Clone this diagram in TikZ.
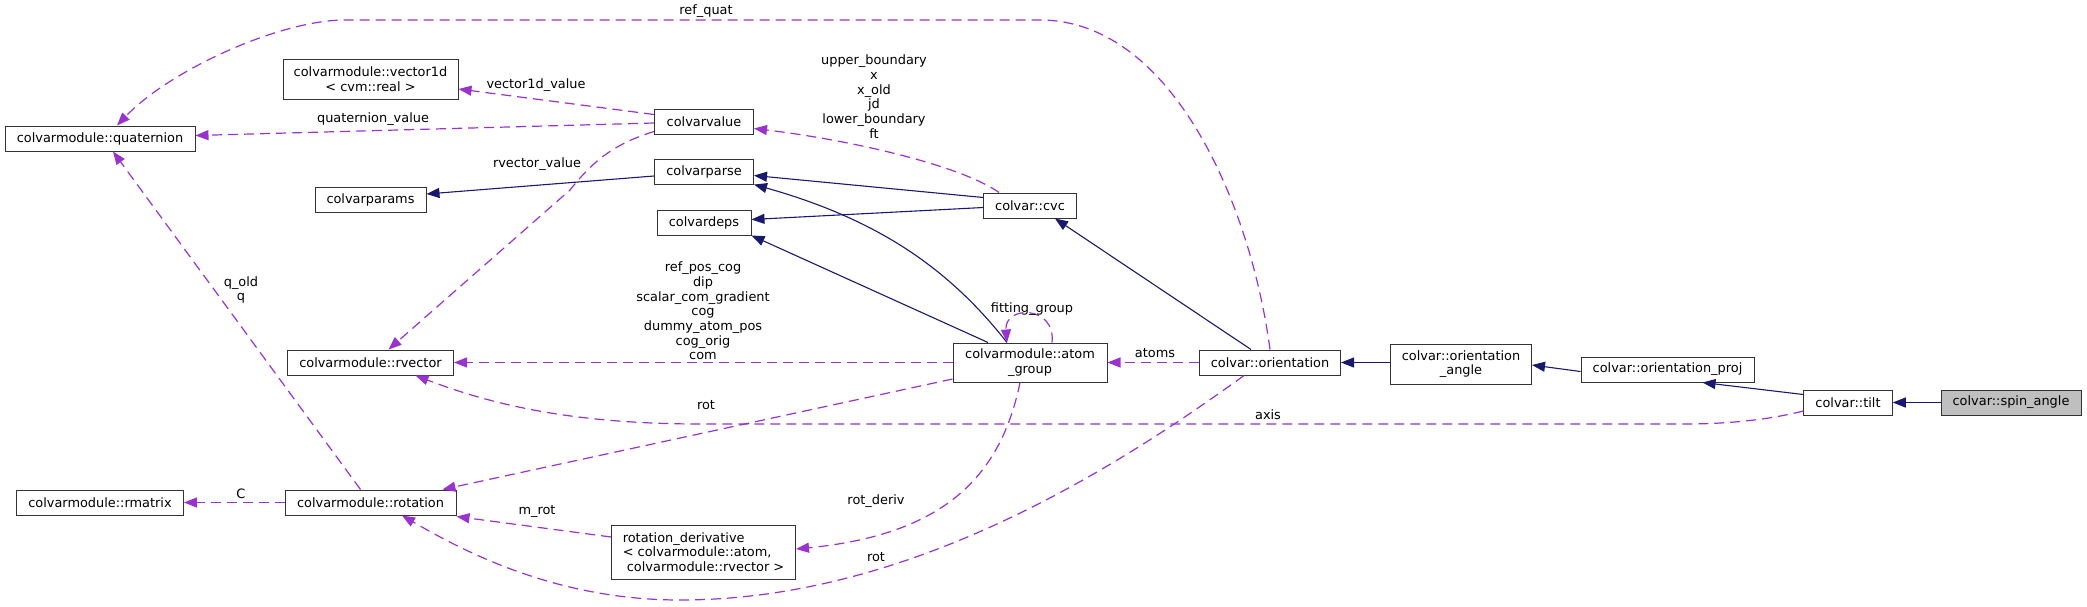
\documentclass[tikz,border=0pt]{standalone}
\usepackage{fontspec}
\setmainfont{DejaVu Sans}
\usetikzlibrary{arrows.meta}
\definecolor{usecol}{HTML}{9A32CD}
\definecolor{inhcol}{HTML}{191970}
\tikzset{
  cls/.style={draw=black!80, fill=white, line width=1pt, inner sep=0pt,
    minimum height=25pt, align=center, font=\fontsize{12.9}{14.7}\selectfont},
  lbl/.style={inner sep=0pt, align=center, font=\fontsize{12.9}{14.7}\selectfont},
  usage/.style={draw=usecol, line width=1.2pt, dash pattern=on 10pt off 6pt,
    -{Triangle[length=13pt,width=10pt,fill=usecol]}},
  inherit/.style={draw=inhcol, line width=1.1pt,
    -{Triangle[length=13pt,width=10pt,fill=inhcol]}}
}
\begin{document}
\begin{tikzpicture}[x=1pt, y=-1pt]
\useasboundingbox (0,0) rectangle (2087,606);

% ── classes, left column ──
\node[cls, minimum width=190pt] (quat) at (100,138.5) {colvarmodule::quaternion};
\node[cls, minimum width=167pt] (rmat) at (100,502.5) {colvarmodule::rmatrix};

% ── second column ──
\node[cls, minimum width=175pt, minimum height=40pt] (vecod) at (370.5,79) {colvarmodule::vector1d\\< cvm::real >};
\node[cls, minimum width=111pt] (params) at (370.5,199.5) {colvarparams};
\node[cls, minimum width=166pt] (rvec) at (370.5,362.5) {colvarmodule::rvector};
\node[cls, minimum width=171pt] (rot) at (370.5,502.5) {colvarmodule::rotation};

% ── third column ──
\node[cls, minimum width=99pt] (value) at (704,121.5) {colvarvalue};
\node[cls, minimum width=99pt] (parse) at (704,171.5) {colvarparse};
\node[cls, minimum width=94pt] (deps) at (704,222.5) {colvardeps};
\node[cls, minimum width=184pt, minimum height=54pt, align=left] (rderiv) at (703.5,552) {rotation\_derivative\\< colvarmodule::atom,\\~colvarmodule::rvector >};

% ── fourth column and the chain to the right ──
\node[cls, minimum width=92.5pt] (cvc) at (1030,205.5) {colvar::cvc};
\node[cls, minimum width=154pt, minimum height=39pt] (atomgrp) at (1030,362.5) {colvarmodule::atom\\\_group};
\node[cls, minimum width=141pt] (orient) at (1270,362.5) {colvar::orientation};
\node[cls, minimum width=141pt, minimum height=40pt] (oangle) at (1461,364) {colvar::orientation\\\_angle};
\node[cls, minimum width=173pt] (oproj) at (1667.5,369.5) {colvar::orientation\_proj};
\node[cls, minimum width=88.5pt] (tilt) at (1848,402.5) {colvar::tilt};
\node[cls, minimum width=140pt, fill=black!25] (spin) at (2011,402.5) {colvar::spin\_angle};

% Inheritance (solid)
\draw[inherit] (spin) -- (tilt);
\draw[inherit] ([yshift=8]tilt.west) -- ([xshift=35]oproj.south);
\draw[inherit] ([yshift=-2]oproj.west) -- ([yshift=-1]oangle.east);
\draw[inherit] ([yshift=1.5]oangle.west) -- (orient.east);
\draw[inherit] ([xshift=-19]orient.north) -- ([xshift=25]cvc.south);
\draw[inherit] ([yshift=8]cvc.west) -- ([yshift=-4]parse.east);
\draw[inherit] ([yshift=-2]cvc.west) -- ([yshift=3]deps.east);
\draw[inherit] ([yshift=-4.5]parse.west) -- ([yshift=5.5]params.east);
\draw[inherit] ([xshift=-23]atomgrp.north) .. controls (950,270) and (880,220) .. (parse.south east);
\draw[inherit] ([xshift=-42]atomgrp.north) -- (deps.south east);

% Usage (dashed)
% ref_quat
\draw[usage] (orient.north) .. controls (1250,200) and (1170,20) .. (1040,20) -- (345,20)
  .. controls (280,20) and (170,70) .. ([xshift=17]quat.north);
\node[lbl] (lrefquat) at (706,11) {ref\_quat};

% colvarvalue members
\draw[usage] ([yshift=7]value.west) -- ([yshift=-10]vecod.east);
\node[lbl] (lvecod) at (536,85) {vector1d\_value};
\draw[usage] ([yshift=-1.5]value.west) -- ([yshift=3]quat.east);
\node[lbl] (lquat) at (373,119) {quaternion\_value};
\draw[usage] ([yshift=-10]value.west) .. controls (610,145) and (590,165) .. (570,190) -- ([xshift=18]rvec.north);
\node[lbl] (lrvec) at (537,164) {rvector\_value};

% cvc -> colvarvalue
\draw[usage] ([xshift=-31]cvc.north) .. controls (960,165) and (850,140) .. ([yshift=-7]value.east);
\node[lbl] (lbounds) at (874,96.5) {upper\_boundary\\x\\x\_old\\jd\\lower\_boundary\\ft};

% atom_group members
\draw[usage] ([xshift=22]atomgrp.north) .. controls (1056,305) and (1004,305) .. ([xshift=-23]atomgrp.north);
\node[lbl] (lfit) at (1032,309) {fitting\_group};
\draw[usage] (orient.west) -- (atomgrp.east);
\node[lbl] (latoms) at (1155,353) {atoms};
\draw[usage] (atomgrp.west) -- (rvec.east);
\node[lbl] (lcog) at (703,311) {ref\_pos\_cog\\dip\\scalar\_com\_gradient\\cog\\dummy\_atom\_pos\\cog\_orig\\com};
\draw[usage] ([yshift=-16.5]atomgrp.west) -- ([xshift=-14]rot.north east);
\node[lbl] (lrot) at (706,405) {rot};
\draw[usage] ([xshift=-10]atomgrp.south) .. controls (1000,480) and (940,535) .. ([yshift=3]rderiv.east);
\node[lbl] (lderiv) at (876,501) {rot\_deriv};

% axis
\draw[usage] ([yshift=-8.5]tilt.west) .. controls (1780,417) and (1740,424) .. (1685,424) -- (700,424)
  .. controls (560,424) and (480,400) .. ([xshift=45]rvec.south);
\node[lbl] (laxis) at (1268,415) {axis};

% orientation -> rotation
\draw[usage] ([xshift=-26]orient.south) .. controls (1100,480) and (900,600) .. (680,600)
  .. controls (560,600) and (470,555) .. ([xshift=31.5]rot.south);
\node[lbl] (lrot2) at (876,557) {rot};

% rotation members
\draw[usage] ([xshift=-10]rot.north) -- ([xshift=13]quat.south);
\node[lbl] (lq) at (241,290) {q\_old\\q};
\draw[usage] (rot.west) -- (rmat.east);
\node[lbl] (lc) at (241,494) {C};
\draw[usage] ([yshift=15]rderiv.west) -- ([yshift=-1]rot.south east);
\node[lbl] (lmrot) at (537,511) {m\_rot};

\end{tikzpicture}
\end{document}
